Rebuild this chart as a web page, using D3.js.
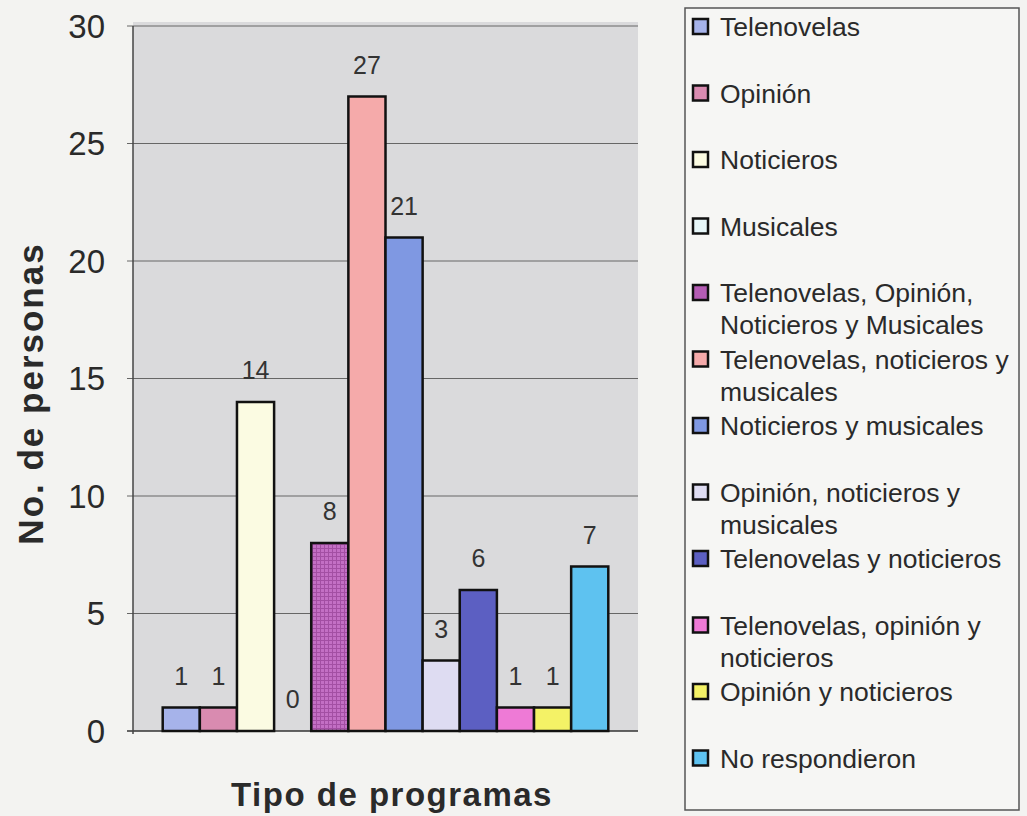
<!DOCTYPE html>
<html>
<head>
<meta charset="utf-8">
<script src="https://cdn.jsdelivr.net/npm/d3@7"></script>
<style>
  body { margin: 0; background: #f3f3f1; }
  svg { display: block; font-family: "Liberation Sans", Arial, sans-serif; }
</style>
</head>
<body>
<div id="chart"></div>
<script>
// series (one bar each), in legend order
const categories = [
  "Telenovelas",
  "Opinión",
  "Noticieros",
  "Musicales",
  "Telenovelas, Opinión, Noticieros y Musicales",
  "Telenovelas, noticieros y musicales",
  "Noticieros y musicales",
  "Opinión, noticieros y musicales",
  "Telenovelas y noticieros",
  "Telenovelas, opinión y noticieros",
  "Opinión y noticieros",
  "No respondieron"
];
const values = [1, 1, 14, 0, 8, 27, 21, 3, 6, 1, 1, 7];
const colors = ["#a6b3ea", "#d98bb0", "#fbfbe2", "#e6f6f8", "#b45cb4", "#f5aaaa",
  "#7f98e2", "#dedcf2", "#5c5fc2", "#ee7ad6", "#f4f266", "#5ec2f0"];
// legend lines (wrapped as in the picture)
const legendLines = [
  ["Telenovelas"],
  ["Opinión"],
  ["Noticieros"],
  ["Musicales"],
  ["Telenovelas, Opinión,", "Noticieros y Musicales"],
  ["Telenovelas, noticieros y", "musicales"],
  ["Noticieros y musicales"],
  ["Opinión, noticieros y", "musicales"],
  ["Telenovelas y noticieros"],
  ["Telenovelas, opinión y", "noticieros"],
  ["Opinión y noticieros"],
  ["No respondieron"]
];
const yTicks = [0, 5, 10, 15, 20, 25, 30];

const width = 1027, height = 816;
const plot = {left: 133, right: 638, top: 26, bottom: 731};

const svg = d3.select("#chart").append("svg")
    .attr("width", width)
    .attr("height", height);

// grid pattern for the purple bar
const defs = svg.append("defs");
const pat = defs.append("pattern")
    .attr("id", "grid")
    .attr("width", 4).attr("height", 4)
    .attr("patternUnits", "userSpaceOnUse");
pat.append("rect").attr("width", 4).attr("height", 4).attr("fill", "#c36fc4");
pat.append("path").attr("d", "M0,0.5H4M0.5,0V4")
    .attr("stroke", "#8e3a8e").attr("stroke-width", 1).attr("opacity", 0.6);

const xScale = d3.scaleBand()
    .domain(categories)
    .range([plot.left, plot.right])
    .paddingInner(0)
    .paddingOuter(0.8);

const yScale = d3.scaleLinear()
    .domain([0, 30])
    .range([plot.bottom, plot.top]);

// plot background
svg.append("rect")
    .attr("x", plot.left).attr("y", plot.top - 4)
    .attr("width", plot.right - plot.left)
    .attr("height", plot.bottom - plot.top + 4)
    .attr("fill", "#dadadc");

// gridlines
svg.append("g")
    .selectAll("line")
    .data(yTicks)
    .join("line")
    .attr("x1", plot.left - 6).attr("x2", plot.right)
    .attr("y1", d => yScale(d)).attr("y2", d => yScale(d))
    .attr("stroke", d => d === 0 ? "#333" : "#666")
    .attr("stroke-width", d => d === 0 ? 1.5 : 1);

// y axis line
svg.append("line")
    .attr("x1", plot.left).attr("x2", plot.left)
    .attr("y1", plot.top).attr("y2", plot.bottom + 3)
    .attr("stroke", "#444").attr("stroke-width", 1.5);

// y tick labels
svg.append("g")
    .selectAll("text")
    .data(yTicks)
    .join("text")
    .attr("x", 105)
    .attr("y", d => yScale(d))
    .attr("dy", "0.35em")
    .attr("text-anchor", "end")
    .attr("font-size", "33px")
    .attr("fill", "#2a2a2a")
    .text(d => d);

// bars
svg.append("g")
    .selectAll("rect")
    .data(values)
    .join("rect")
    .attr("x", (d, i) => xScale(categories[i]))
    .attr("y", d => yScale(d))
    .attr("width", xScale.bandwidth())
    .attr("height", d => yScale(0) - yScale(d))
    .attr("fill", (d, i) => i === 4 ? "url(#grid)" : colors[i])
    .attr("stroke", "#111")
    .attr("stroke-width", d => d > 0 ? 2.5 : 0);

// value labels
svg.append("g")
    .selectAll("text")
    .data(values)
    .join("text")
    .attr("x", (d, i) => xScale(categories[i]) + xScale.bandwidth() / 2)
    .attr("y", d => yScale(d) - 23)
    .attr("text-anchor", "middle")
    .attr("font-size", "25px")
    .attr("fill", "#333")
    .text(d => d);

// axis titles
svg.append("text")
    .attr("transform", `translate(43, ${(plot.top + plot.bottom) / 2 + 15}) rotate(-90)`)
    .attr("text-anchor", "middle")
    .attr("font-size", "35px")
    .attr("font-weight", "bold")
    .attr("letter-spacing", "2px")
    .attr("fill", "#2a2a2a")
    .text("No. de personas");

svg.append("text")
    .attr("x", 392).attr("y", 806)
    .attr("text-anchor", "middle")
    .attr("font-size", "33px")
    .attr("font-weight", "bold")
    .attr("letter-spacing", "1.5px")
    .attr("fill", "#2a2a2a")
    .text("Tipo de programas");

// legend
const legend = svg.append("g");
legend.append("rect")
    .attr("x", 685).attr("y", 8)
    .attr("width", 334).attr("height", 802)
    .attr("fill", "#f6f6f4")
    .attr("stroke", "#555").attr("stroke-width", 1.5);

const item = legend.selectAll(".legend-item")
    .data(categories)
    .join("g")
    .attr("class", "legend-item")
    .attr("transform", (d, i) => `translate(0, ${27 + i * 66.5})`);

item.append("rect")
    .attr("x", 693).attr("y", -8)
    .attr("width", 15).attr("height", 15)
    .attr("fill", (d, i) => colors[i])
    .attr("stroke", "#111").attr("stroke-width", 2.5);

item.each(function(d, i) {
  d3.select(this).selectAll("text")
      .data(legendLines[i])
      .join("text")
      .attr("x", 720)
      .attr("y", (t, j) => j * 32)
      .attr("dy", "0.35em")
      .attr("font-size", "26.5px")
      .attr("fill", "#2a2a2a")
      .text(t => t);
});
</script>
</body>
</html>
